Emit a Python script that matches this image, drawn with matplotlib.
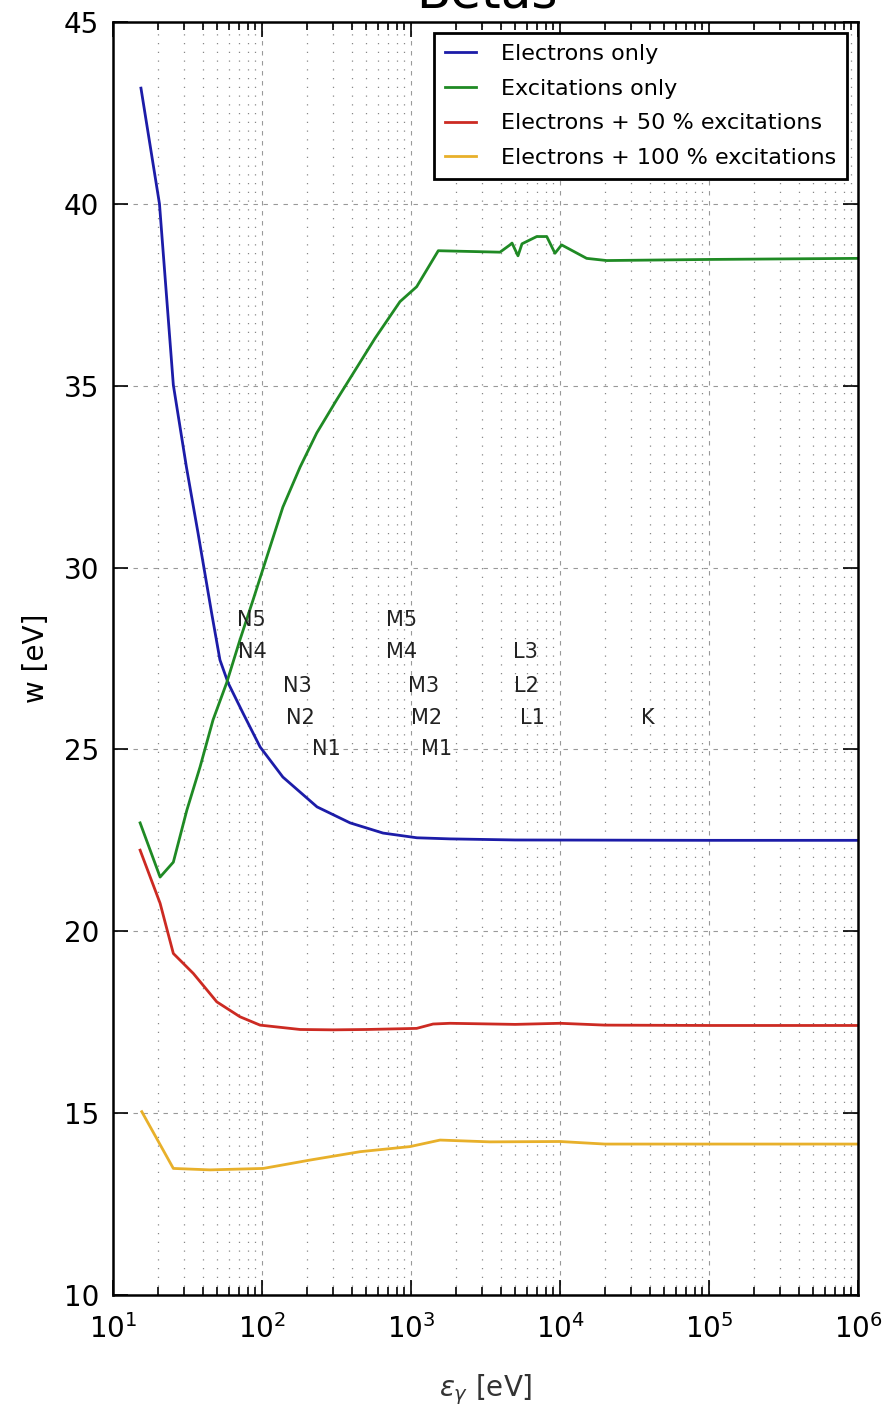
import matplotlib
matplotlib.use('Agg')
import matplotlib.pyplot as plt
from matplotlib.ticker import LogLocator, NullFormatter

# mean energy per pair vs photon energy
energy_el = [15.4, 20.5, 25.4, 31.1, 37.2, 45.9, 52.2, 59.2, 74.5, 97, 138, 234, 390, 649,
             1096, 1827, 5000, 1e5, 1e6]
w_el = [43.18, 40.0, 35.02, 32.76, 30.95, 28.75, 27.46, 26.83, 26.0, 25.07, 24.24, 23.42,
        22.98, 22.70, 22.57, 22.54, 22.51, 22.5, 22.5]

energy_exc = [15.2, 20.7, 25.4, 31.3, 38.4, 46.9, 57.9, 71.1, 87.1, 107.7, 138, 180, 233,
              317, 573, 843, 1091, 1524, 3954, 4613, 4764, 5224, 5556, 6982, 8147,
              9252, 10250, 15090, 20560, 1e5, 1e6]
w_exc = [22.98, 21.49, 21.9, 23.33, 24.52, 25.81, 26.83, 28.01, 29.11, 30.29, 31.66, 32.76,
         33.70, 34.61, 36.3, 37.31, 37.72, 38.71, 38.67, 38.87, 38.92, 38.57, 38.9,
         39.10, 39.10, 38.64, 38.87, 38.50, 38.44, 38.47, 38.50]

energy_50 = [15.2, 20.7, 25.4, 34.6, 49.7, 71.1, 97, 180, 300, 505, 1091, 1406, 1827, 5000,
             10000, 20000, 1e5, 1e6]
w_50 = [22.23, 20.77, 19.39, 18.84, 18.06, 17.65, 17.42, 17.30, 17.29, 17.30, 17.33, 17.45,
        17.47, 17.44, 17.47, 17.42, 17.41, 17.41]

energy_100 = [15.6, 25.4, 44.8, 102, 210, 455, 984, 1567, 3388, 10000, 20000, 1e5, 1e6]
w_100 = [15.04, 13.48, 13.44, 13.48, 13.71, 13.94, 14.08, 14.26, 14.21, 14.22, 14.15, 14.15,
         14.15]

# shell edge labels
edge_names = ["N5", "N4", "N3", "N2", "N1", "M5", "M4", "M3", "M2", "M1", "L3", "L2", "L1", "K"]
edge_energy = [84.3, 86.3, 173, 180, 272, 867, 867, 1205, 1262, 1486, 5821, 5977, 6529, 38990]
edge_w = [28.56, 27.68, 26.74, 25.86, 25.01, 28.56, 27.68, 26.74, 25.86, 25.01, 27.68, 26.74,
          25.86, 25.86]

plt.rcParams['font.size'] = 20

fig = plt.figure(figsize=(8.85, 14.15), dpi=100)
ax = fig.add_axes([0.1277, 0.0848, 0.8418, 0.8997])

ax.plot(energy_el, w_el, color='#1c1ca8', lw=2.0, label='Electrons only')
ax.plot(energy_exc, w_exc, color='#1f8a24', lw=2.0, label='Excitations only')
ax.plot(energy_50, w_50, color='#cc2a22', lw=2.0, label='Electrons + 50 % excitations')
ax.plot(energy_100, w_100, color='#e8b02a', lw=2.0, label='Electrons + 100 % excitations')

for name, e, w in zip(edge_names, edge_energy, edge_w):
    ax.text(e, w, name, ha='center', va='center', fontsize=15, color='#222222')

ax.set_xscale('log')
ax.set_xlim(10, 1e6)
ax.set_ylim(10, 45)
ax.xaxis.set_minor_locator(LogLocator(base=10, subs=range(2, 10), numticks=20))
ax.xaxis.set_minor_formatter(NullFormatter())

ax.grid(True, which='major', color='#999999', linestyle=(0, (4, 5)), lw=0.8)
ax.grid(True, which='minor', axis='x', color='#888888', linestyle=(0, (1, 6)), lw=0.9)

ax.tick_params(which='both', direction='in', top=True, right=True, labelsize=20, width=1.2)
ax.tick_params(which='major', length=11)
ax.tick_params(axis='x', which='major', pad=14)
ax.tick_params(axis='y', which='major', pad=10)
ax.tick_params(which='minor', length=6)
for s in ax.spines.values():
    s.set_linewidth(1.8)

ax.set_xlabel(r'$\epsilon_\gamma$ [eV]', fontsize=20, labelpad=20, color='#333333')
ax.set_ylabel('w [eV]', fontsize=20, labelpad=10)

leg = ax.legend(loc='upper right', fontsize=16, handlelength=1.4, handletextpad=1.1,
                borderaxespad=0.5, borderpad=0.5, labelspacing=0.66, fancybox=False)
leg.get_frame().set_edgecolor('black')
leg.get_frame().set_linewidth(2)
leg.get_frame().set_alpha(1)

fig.text(0.55, 0.995, 'Betas', ha='center', va='baseline', fontsize=36)

fig.savefig('out.png', dpi=100)
